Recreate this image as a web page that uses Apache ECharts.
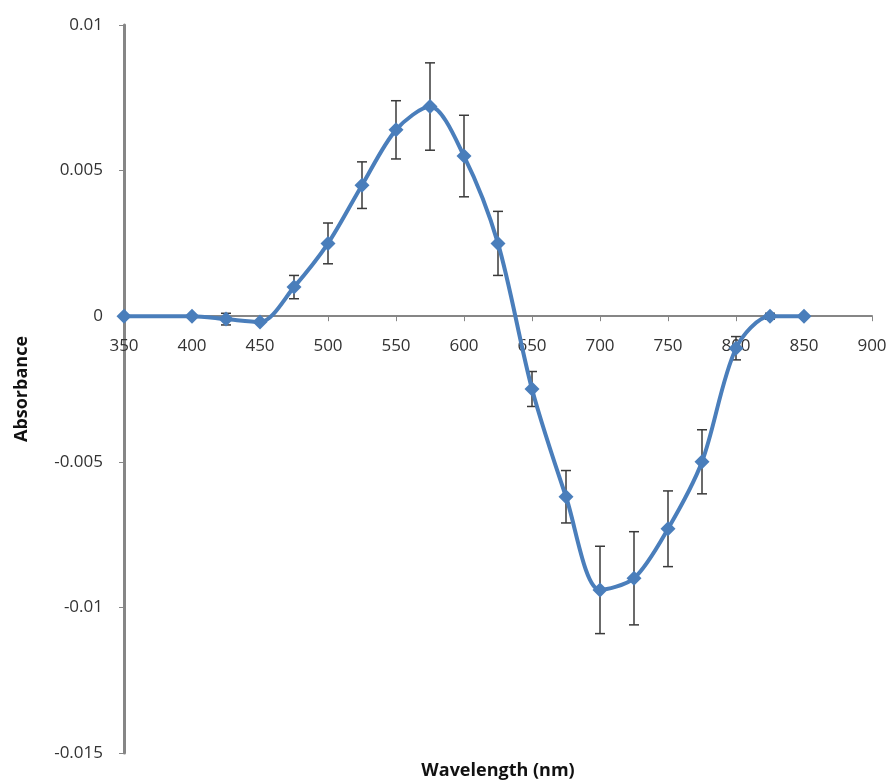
<!DOCTYPE html>
<html>
<head>
<meta charset="utf-8">
<script src="https://cdn.jsdelivr.net/npm/echarts@6/dist/echarts.min.js"></script>
<style>html,body{margin:0;padding:0;background:#fff}#c{width:890px;height:781px}</style>
</head>
<body>
<div id="c"></div>
<script>
var wavelengths = [350, 400, 425, 450, 475, 500, 525, 550, 575, 600, 625, 650, 675, 700, 725, 750, 775, 800, 825, 850];
var absorbance = [0, 0, -0.0001, -0.0002, 0.001, 0.0025, 0.0045, 0.0064, 0.0072, 0.0055, 0.0025, -0.0025, -0.0062, -0.0094, -0.009, -0.0073, -0.005, -0.0011, 0, 0];
var errors = [0, 0, 0.0002, 0, 0.0004, 0.0007, 0.0008, 0.001, 0.0015, 0.0014, 0.0011, 0.0006, 0.0009, 0.0015, 0.0016, 0.0013, 0.0011, 0.0004, 0.0001, 0];
var xTicks = [350, 900, 50];
var yTicks = [-0.015, 0.01, 0.005];

var lineData = wavelengths.map(function (w, i) { return [w, absorbance[i]]; });
var errData = wavelengths.map(function (w, i) { return [w, absorbance[i] - errors[i], absorbance[i] + errors[i]]; });

var gridTop = 25, gridBottom = 28, H = 781;
var plotH = H - gridTop - gridBottom;
// shift the x axis up so it crosses the y axis at zero
var zeroOffset = -plotH * (0 - yTicks[0]) / (yTicks[1] - yTicks[0]);

var chart = echarts.init(document.getElementById('c'));
var font = '"Open Sans", Lato, sans-serif';
var axisGray = '#868686';
chart.setOption({
  animation: false,
  backgroundColor: '#fff',
  grid: { left: 124, right: 18, top: gridTop, bottom: gridBottom, containLabel: false, outerBoundsMode: 'none' },
  xAxis: [{
    type: 'value', min: xTicks[0], max: xTicks[1], interval: xTicks[2],
    position: 'bottom', offset: zeroOffset,
    axisLine: { onZero: false, lineStyle: { color: axisGray, width: 2 } },
    axisTick: { show: true, length: 5, lineStyle: { color: axisGray, width: 1 } },
    axisLabel: { margin: 21, fontFamily: font, fontSize: 17, color: '#333' },
    splitLine: { show: false }
  }, {
    type: 'value', min: xTicks[0], max: xTicks[1], position: 'bottom',
    name: 'Wavelength (nm)', nameLocation: 'middle', nameGap: 9,
    nameTextStyle: { fontFamily: font, fontWeight: 'bold', fontSize: 18, color: '#111' },
    axisLine: { show: false }, axisTick: { show: false }, axisLabel: { show: false }, splitLine: { show: false }
  }],
  yAxis: {
    type: 'value', min: yTicks[0], max: yTicks[1], interval: yTicks[2],
    name: 'Absorbance', nameLocation: 'middle', nameGap: 93, nameRotate: 90,
    nameTextStyle: { fontFamily: font, fontWeight: 'bold', fontSize: 18, color: '#111' },
    axisLine: { show: true, onZero: false, lineStyle: { color: axisGray, width: 3 } },
    axisTick: { show: true, length: 5, lineStyle: { color: axisGray, width: 1 } },
    axisLabel: { margin: 21, fontFamily: font, fontSize: 17, color: '#333',
      formatter: function (v) { return String(parseFloat(v.toFixed(4))); } },
    splitLine: { show: false }
  },
  series: [
    {
      type: 'custom',
      z: 1,
      data: errData,
      renderItem: function (params, api) {
        var x = api.value(0);
        var lo = api.coord([x, api.value(1)]);
        var hi = api.coord([x, api.value(2)]);
        if (Math.abs(lo[1] - hi[1]) < 1) return null;
        var cw = 5;
        var st = { stroke: '#3a3a3a', lineWidth: 1.5 };
        return {
          type: 'group',
          children: [
            { type: 'line', shape: { x1: lo[0], y1: lo[1], x2: hi[0], y2: hi[1] }, style: st },
            { type: 'line', shape: { x1: lo[0] - cw, y1: lo[1], x2: lo[0] + cw, y2: lo[1] }, style: st },
            { type: 'line', shape: { x1: hi[0] - cw, y1: hi[1], x2: hi[0] + cw, y2: hi[1] }, style: st }
          ]
        };
      }
    },
    {
      type: 'line',
      z: 3,
      data: lineData,
      smooth: 0.3,
      symbol: 'diamond',
      symbolSize: 15,
      lineStyle: { color: '#4A7EBB', width: 4 },
      itemStyle: { color: '#4A7EBB' }
    }
  ]
});
</script>
</body>
</html>
